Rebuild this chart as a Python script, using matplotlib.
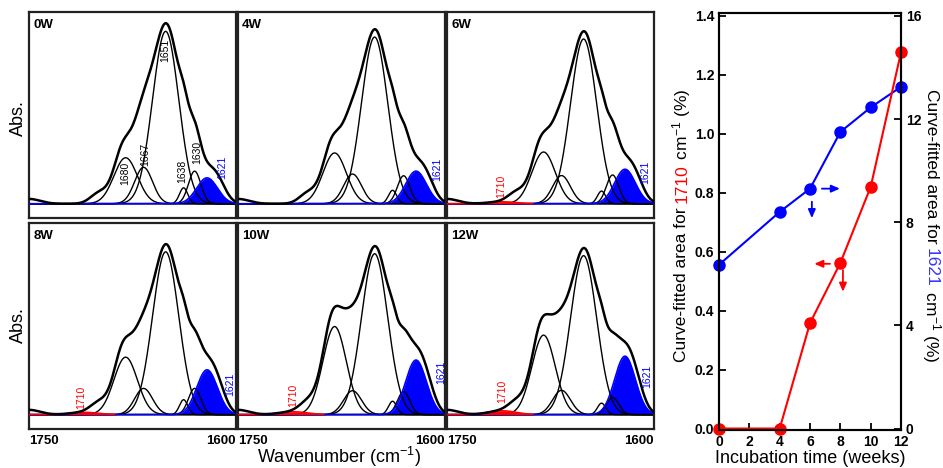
import numpy as np
import matplotlib.pyplot as plt

plt.rcParams['font.family'] = ['Liberation Sans', 'DejaVu Sans']
plt.rcParams['mathtext.fontset'] = 'custom'
plt.rcParams['mathtext.rm'] = 'Liberation Sans'
plt.rcParams['mathtext.default'] = 'regular'

# --- curve-fitted amide I bands (center, height, width) ---
panel_names = ['0W', '4W', '6W', '8W', '10W', '12W']
band_centers = [1710, 1680, 1667, 1651, 1638, 1630, 1621]
band_widths = [10, 8.5, 6.5, 9.5, 3, 4.5, 7.5]

heights_0w = [0.0, 0.24, 0.19, 0.90, 0.083, 0.17, 0.135]
heights_4w = [0.0, 0.265, 0.155, 0.87, 0.07, 0.146, 0.17]
heights_6w = [0.010, 0.27, 0.147, 0.86, 0.066, 0.15, 0.18]
heights_8w = [0.012, 0.30, 0.137, 0.85, 0.078, 0.137, 0.234]
heights_10w = [0.015, 0.46, 0.125, 0.84, 0.07, 0.12, 0.285]
heights_12w = [0.020, 0.415, 0.127, 0.83, 0.06, 0.09, 0.305]
all_heights = [heights_0w, heights_4w, heights_6w, heights_8w, heights_10w, heights_12w]

# unassigned absorbance that shows up only in the measured envelope
extra_centers = [1750, 1700, 1683, 1668, 1636, 1613]
extra_heights = [0.025, 0.047, 0.0625, 0.104, 0.156, 0.073]
extra_widths = [8, 6, 5, 7, 8, 6]

# --- band areas vs incubation time ---
weeks = [0, 4, 6, 8, 10, 12]
area_1710 = [0.0, 0.0, 0.358, 0.562, 0.82, 1.277]
area_1621 = [6.35, 8.4, 9.3, 11.5, 12.45, 13.25]

# peak annotations: (text, wavenumber, height, colour)
peak_labels = [
    [('1680', 1680, 0.16, 'black'), ('1667', 1666, 0.255, 'black'),
     ('1651', 1651, 0.80, 'black'), ('1638', 1639, 0.167, 'black'),
     ('1630', 1628.5, 0.27, 'black'), ('1621', 1610, 0.19, 'blue')],
    [('1621', 1606, 0.18, 'blue')],
    [('1710', 1711, 0.09, 'red'), ('1621', 1606, 0.165, 'blue')],
    [('1710', 1712, 0.09, 'red'), ('1621', 1604, 0.16, 'blue')],
    [('1710', 1710, 0.10, 'red'), ('1621', 1603, 0.22, 'blue')],
    [('1710', 1710, 0.12, 'red'), ('1621', 1605, 0.20, 'blue')],
]

fig = plt.figure(figsize=(9.43, 4.68), dpi=100)

wn = np.linspace(1750, 1600, 751)


def band(c, h, s):
    return h * np.exp(-0.5 * ((wn - c) / s) ** 2)


background = np.sum([band(c, h, s) for c, h, s in
                     zip(extra_centers, extra_heights, extra_widths)], axis=0)

lefts = [0.0308, 0.2524, 0.474]
bottoms = [0.534, 0.0833]
pw, ph = 0.2195, 0.440

for i, (name, hts) in enumerate(zip(panel_names, all_heights)):
    row, col = divmod(i, 3)
    ax = fig.add_axes([lefts[col], bottoms[row], pw, ph])
    comps = [band(c, h, s) for c, h, s in zip(band_centers, hts, band_widths)]
    total = np.sum(comps, axis=0) + background

    ax.fill_between(wn, 0, comps[6], color='blue', lw=0, zorder=1)
    for k in range(1, 6):
        ax.plot(wn, comps[k], color='black', lw=1.0, zorder=2)
    ax.plot(wn, comps[6], color='blue', lw=1.2, zorder=3)
    if hts[0] > 0:
        ax.fill_between(wn, 0, comps[0], color='red', lw=0, zorder=3)
        m = wn > 1688
        ax.plot(wn[m], comps[0][m], color='red', lw=1.2, zorder=4)
    ax.plot(wn, total, color='black', lw=1.8, zorder=5)

    for txt, x, y, c in peak_labels[i]:
        ax.text(x, y, txt, rotation=90, ha='center', va='center',
                fontsize=7.5, color=c, zorder=6)

    ax.text(0.02, 0.965, name, transform=ax.transAxes, ha='left', va='top',
            fontsize=9.5, fontweight='bold')

    ax.set_xlim(1750, 1600)
    ax.set_ylim(-0.075, 1.0)
    ax.set_yticks([])
    for sp in ax.spines.values():
        sp.set_linewidth(1.6)
        sp.set_color('#222222')
    if row == 1:
        ax.set_xticks([1750, 1600])
        ax.set_xticklabels(['1750', '1600'], fontsize=9.5, fontweight='bold')
        tl = ax.get_xticklabels()
        tl[0].set_ha('left')
        tl[1].set_ha('right')
        ax.tick_params(axis='x', length=0, pad=4)
    else:
        ax.set_xticks([])

fig.text(18 / 943, 1 - 118 / 468, 'Abs.', rotation=90, ha='center', va='center', fontsize=13)
fig.text(18 / 943, 1 - 325 / 468, 'Abs.', rotation=90, ha='center', va='center', fontsize=13)
fig.text(339 / 943, 1 - 457 / 468, 'Wavenumber (cm$^{-1}$)', ha='center', va='center', fontsize=13)

# --- area vs incubation time ---
ax1 = fig.add_axes([0.7625, 0.0812, 0.193, 0.891])
ax2 = ax1.twinx()
ax1.set_zorder(ax2.get_zorder() + 1)
ax1.patch.set_visible(False)

ax2.plot(weeks, area_1621, color='blue', lw=1.5, marker='o', ms=8, clip_on=False)
ax1.plot(weeks, area_1710, color='red', lw=1.5, marker='o', ms=8, clip_on=False)

arrow = dict(arrowstyle='-|>,head_length=0.5,head_width=0.22', lw=1.3, mutation_scale=10)
ax2.annotate('', xy=(8.15, 9.3), xytext=(6.6, 9.3), arrowprops=dict(arrow, color='blue'))
ax2.annotate('', xy=(6.12, 8.05), xytext=(6.12, 8.9), arrowprops=dict(arrow, color='blue'))
ax1.annotate('', xy=(6.1, 0.559), xytext=(7.5, 0.559), arrowprops=dict(arrow, color='red'))
ax1.annotate('', xy=(8.17, 0.455), xytext=(8.17, 0.547), arrowprops=dict(arrow, color='red'))

ax1.set_xlim(0, 12)
ax1.set_ylim(-0.005, 1.41)
ax2.set_ylim(-0.057, 16.11)
ax1.set_xticks(range(0, 13, 2))
ax1.set_yticks(np.arange(0, 1.41, 0.2))
ax1.set_yticklabels(['%.1f' % v for v in np.arange(0, 1.41, 0.2)])
ax2.set_yticks([0, 4, 8, 12, 16])
for a in (ax1, ax2):
    a.tick_params(direction='in', length=5, width=1.3, labelsize=10)
    for sp in a.spines.values():
        sp.set_linewidth(1.5)
plt.setp(ax1.get_xticklabels() + ax1.get_yticklabels() + ax2.get_yticklabels(), fontweight='bold')
ax1.set_xlabel('Incubation time (weeks)', fontsize=13, labelpad=1)

# multi-coloured y labels built from chained pieces
left_parts = [('Curve-fitted area for ', 'black'), ('1710', 'red'), (' cm$^{-1}$ (%)', 'black')]
right_parts = [('Curve-fitted area for ', 'black'), ('1621', '#3535ff'), (' cm$^{-1}$ (%)', 'black')]
lab_size = 12.5

first_l = ax1.text(-0.205, 0.0, left_parts[0][0], transform=ax1.transAxes, rotation=90,
                   ha='center', va='bottom', fontsize=lab_size, color=left_parts[0][1])
prev = first_l
pieces_l = [first_l]
for s, c in left_parts[1:]:
    prev = ax1.annotate(s, xy=(0.5, 1.0), xycoords=prev, rotation=90, ha='center',
                        va='bottom', fontsize=lab_size, color=c)
    pieces_l.append(prev)

first_r = ax1.text(1.165, 1.0, right_parts[0][0], transform=ax1.transAxes, rotation=270,
                   ha='center', va='top', fontsize=lab_size, color=right_parts[0][1])
prev = first_r
pieces_r = [first_r]
for s, c in right_parts[1:]:
    prev = ax1.annotate(s, xy=(0.5, 0.0), xycoords=prev, rotation=270, ha='center',
                        va='top', fontsize=lab_size, color=c)
    pieces_r.append(prev)

# centre both labels along the axis
fig.canvas.draw()
r = fig.canvas.get_renderer()
inv = ax1.transAxes.inverted()
for pieces, first, sign in ((pieces_l, first_l, 1), (pieces_r, first_r, -1)):
    ys = []
    for p in pieces:
        bb = p.get_window_extent(r)
        ys += [inv.transform((bb.x0, bb.y0))[1], inv.transform((bb.x1, bb.y1))[1]]
    span = max(ys) - min(ys)
    x0 = first.get_position()[0]
    if sign == 1:
        first.set_position((x0, 0.49 - span / 2))
    else:
        first.set_position((x0, 0.49 + span / 2))

fig.savefig('out.png', dpi=100)
